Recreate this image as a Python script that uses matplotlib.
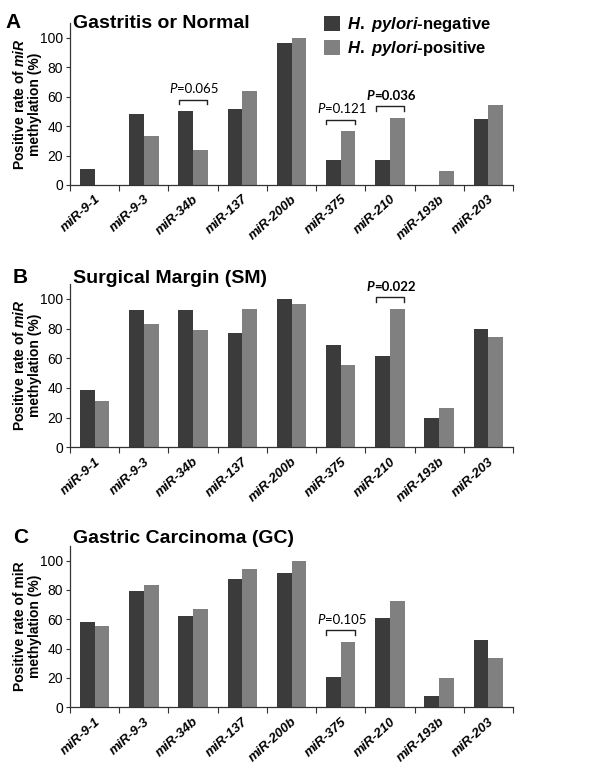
import matplotlib
matplotlib.use('Agg')
import matplotlib.pyplot as plt
from matplotlib.patches import Patch
import numpy as np

## Fonts
plt.rcParams['font.family'] = 'Liberation Sans'
plt.rcParams['mathtext.fontset'] = 'custom'
plt.rcParams['mathtext.rm'] = 'Liberation Sans:bold'
plt.rcParams['mathtext.bf'] = 'Liberation Sans:bold'
plt.rcParams['mathtext.it'] = 'Liberation Sans:italic:bold'

## Data (positive rate of miR methylation, %)
mirs = ['miR-9-1', 'miR-9-3', 'miR-34b', 'miR-137', 'miR-200b',
        'miR-375', 'miR-210', 'miR-193b', 'miR-203']

gn_neg = [10.7, 48.2, 50.0, 51.8, 96.6, 17.0, 17.0, 0.0, 44.8]
gn_pos = [0.0, 33.4, 23.9, 63.6, 100.0, 36.4, 45.5, 9.5, 54.5]

sm_neg = [38.5, 92.3, 92.3, 76.9, 100.0, 69.2, 61.5, 20.0, 80.0]
sm_pos = [31.0, 82.8, 79.3, 93.1, 96.6, 55.2, 93.1, 26.3, 74.1]

gc_neg = [58.3, 79.2, 62.5, 87.5, 91.7, 20.8, 60.9, 7.7, 46.2]
gc_pos = [55.6, 83.3, 66.7, 94.4, 100.0, 44.4, 72.2, 20.0, 33.3]

titles = ['Gastritis or Normal', 'Surgical Margin (SM)', 'Gastric Carcinoma (GC)']
letters = ['A', 'B', 'C']
ylabels = ['Positive rate of $\\mathit{miR}$\nmethylation (%)',
           'Positive rate of $\\mathit{miR}$\nmethylation (%)',
           'Positive rate of miR\nmethylation (%)']
legend_labels = ['$\\mathit{H.\\ pylori}$-negative', '$\\mathit{H.\\ pylori}$-positive']

## P-value annotations per panel: (category, value text, bold?)
pvals = [[('miR-34b', '=0.065', False), ('miR-375', '=0.121', False), ('miR-210', '=0.036', True)],
         [('miR-210', '=0.022', True)],
         [('miR-375', '=0.105', False)]]

neg_all = [gn_neg, sm_neg, gc_neg]
pos_all = [gn_pos, sm_pos, gc_pos]

c_neg = '#3b3b3b'
c_pos = '#808080'
spine_c = '#333333'

fig = plt.figure(figsize=(6, 7.75), dpi=100)
## axes boxes [left, bottom, width, height] in figure fraction
boxes = [[0.1167, 0.7613, 0.7383, 0.2090],
         [0.1167, 0.4228, 0.7383, 0.2107],
         [0.1167, 0.0874, 0.7383, 0.2081]]
letter_x = [5, 13, 13]
title_base = [28, 283, 543]

x = np.arange(len(mirs))
w = 0.3
for k in range(3):
    ax = fig.add_axes(boxes[k])
    neg = np.array(neg_all[k])
    pos = np.array(pos_all[k])
    ax.bar(x - w/2, neg, w, color=c_neg, linewidth=0)
    ax.bar(x + w/2, pos, w, color=c_pos, linewidth=0)

    ax.set_xlim(-0.5, len(mirs) - 0.5)
    ax.set_ylim(0, 110)
    ax.set_yticks(np.arange(0, 101, 20))
    ax.tick_params(axis='y', labelsize=10, length=3, width=0.8, pad=2, color=spine_c)
    ax.set_xticks(x)
    ax.set_xticklabels(mirs, rotation=42, ha='right', va='top', rotation_mode='anchor',
                       fontstyle='italic', fontweight='bold', fontsize=9.5)
    ax.set_xticks(np.arange(-0.5, len(mirs), 1.0), minor=True)
    ax.tick_params(axis='x', which='major', length=0, pad=6)
    ax.tick_params(axis='x', which='minor', length=4, width=0.8, color=spine_c)
    for s in ['top', 'right']:
        ax.spines[s].set_visible(False)
    for s in ['left', 'bottom']:
        ax.spines[s].set_color(spine_c)
        ax.spines[s].set_linewidth(0.9)

    ax.set_ylabel(ylabels[k], fontsize=10, fontweight='bold', linespacing=1.05)
    ax.yaxis.set_label_coords(-0.064, 0.5)

    ## significance brackets
    for name, txt, bold in pvals[k]:
        i = mirs.index(name)
        top = max(neg[i], pos[i]) + 8
        ax.plot([i - 0.29, i - 0.29, i + 0.29, i + 0.29], [top - 3, top, top, top - 3],
                color='#222222', lw=1.0)
        wt = 'bold' if bold else 'normal'
        pt = ax.annotate('P', xy=(i, top), xytext=(-17, 3), textcoords='offset points',
                         ha='left', va='bottom', fontsize=9.5, fontstyle='italic',
                         fontweight=wt, family='Lato')
        ax.annotate(txt, xy=(1, 0), xycoords=pt, ha='left', va='bottom',
                    fontsize=9.5, fontweight=wt, family='Lato')

    fig.text(letter_x[k] / 600, 1 - title_base[k] / 775, letters[k],
             fontsize=15, fontweight='bold', va='baseline')
    fig.text(73 / 600, 1 - title_base[k] / 775, titles[k],
             fontsize=14, fontweight='bold', va='baseline')

handles = [Patch(facecolor=c_neg, edgecolor='none'), Patch(facecolor=c_pos, edgecolor='none')]
leg = fig.legend(handles, legend_labels, loc='upper left', bbox_to_anchor=(316 / 600, 1 - 7 / 775),
                 frameon=False, borderpad=0, handlelength=0.95, handleheight=1.05,
                 handletextpad=0.4, labelspacing=0.3, prop={'size': 12, 'weight': 'bold'})

plt.savefig('out.png', dpi=100)
